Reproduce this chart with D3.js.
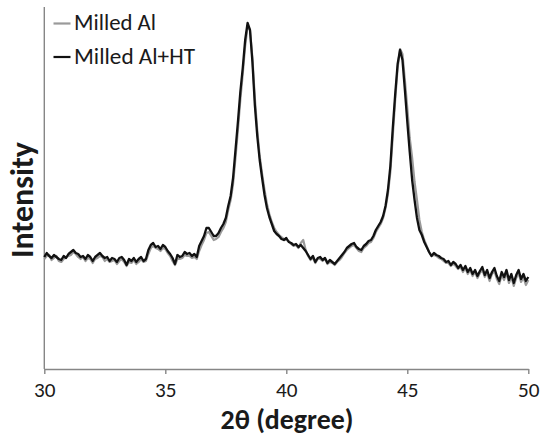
<!DOCTYPE html>
<html>
<head>
<meta charset="utf-8">
<script src="https://cdn.jsdelivr.net/npm/d3@7/dist/d3.min.js"></script>
<style>
  html, body { margin: 0; padding: 0; background: #fff; }
  svg { display: block; }
  text { font-family: Carlito, Calibri, Lato, "Open Sans", sans-serif; fill: #1a1a1a; }
</style>
</head>
<body>
<svg id="chart" width="541" height="437"></svg>
<script>
// ---- data (2θ in degrees, intensity in arbitrary units) ----
const angleStart = 30, angleEnd = 50, angleStep = 0.1;
const xTicks = [30, 35, 40, 45, 50];
const xTickLabels = ["30", "35", "40", "45", "50"];
const seriesNames = ["Milled Al", "Milled Al+HT"];

// Milled Al+HT (black)
const milledAlHT = [
112,116,113,111,114,112,110,109,113,111,
115,117,119,116,115,112,113,110,114,112,
108,112,114,116,113,111,112,108,111,110,
107,111,112,109,104,110,108,111,107,110,
112,108,110,119,124,126,122,123,120,124,
122,118,115,111,105,114,112,113,117,115,
116,113,115,112,123,128,133,141,141,137,
133,133,136,141,145,151,163,173,191,219,
247,277,301,329,346,339,307,264,233,209,
191,174,161,152,145,138,135,133,130,129,
131,127,126,124,125,122,124,121,118,114,
110,113,107,111,112,109,111,106,109,107,
105,108,111,114,117,121,123,125,126,122,
120,119,123,125,128,129,133,139,143,147,
153,163,179,203,241,275,305,319,309,279,
247,217,189,169,151,139,134,127,122,117,
113,116,114,113,111,110,107,108,104,107,
105,101,104,99,103,97,101,95,99,93,
98,102,94,99,91,97,101,93,88,97,
92,99,89,95,86,94,99,90,95,88,
92];

// Milled Al (gray)
const milledAl = [
110,113,114,109,111,113,108,107,110,112,
113,114,117,115,112,110,112,108,111,110,
106,110,111,113,112,108,110,107,108,109,
105,108,110,107,103,107,106,109,105,107,
110,107,108,115,121,123,121,120,118,121,
120,116,113,108,104,110,110,111,114,113,
113,111,112,110,118,124,129,136,137,133,
129,130,132,137,141,147,159,169,185,211,
239,269,295,323,343,339,311,271,239,213,
195,179,165,155,147,141,137,134,132,130,
129,128,125,123,124,121,126,129,119,113,
109,111,106,110,110,108,110,105,107,106,
104,107,109,112,116,119,121,123,124,121,
118,117,121,123,126,127,131,137,141,145,
151,161,175,197,233,269,301,320,315,289,
261,231,211,187,169,149,137,129,123,117,
113,114,113,111,110,108,106,106,103,105,
103,100,102,97,101,95,99,93,97,91,
96,99,92,96,88,95,98,90,85,94,
89,96,86,92,83,91,96,87,92,84,
89];

// ---- layout ----
const svg = d3.select("#chart");
const x = d3.scaleLinear().domain([angleStart, angleEnd]).range([44.3, 528.3]);
const y = d3.scaleLinear().domain([0, 362]).range([369, 7]);
const angles = milledAlHT.map((_, i) => +(angleStart + i * angleStep).toFixed(2));

const axisColor = "#868686";

// y axis (line only)
svg.append("line")
  .attr("x1", x(angleStart)).attr("x2", x(angleStart))
  .attr("y1", y(362)).attr("y2", y(0))
  .attr("stroke", axisColor).attr("stroke-width", 1.4);

// x axis
const xAxis = d3.axisBottom(x).tickValues(xTicks)
  .tickFormat((d, i) => xTickLabels[i]).tickSize(5).tickSizeOuter(0);
const gx = svg.append("g").attr("transform", `translate(0,${y(0)})`).call(xAxis);
gx.select(".domain").attr("stroke", axisColor).attr("stroke-width", 1.4);
gx.selectAll(".tick line").attr("stroke", axisColor).attr("stroke-width", 1.4);
gx.selectAll(".tick text")
  .attr("fill", "#1a1a1a")
  .attr("dy", null).attr("y", 27.5)
  .style("font-family", "Carlito, Calibri, Lato, sans-serif");

// fit helper: scale font size so text reaches a target width
function fitWidth(sel, target, start) {
  sel.style("font-size", start + "px");
  const w = sel.node().getComputedTextLength();
  sel.style("font-size", (start * target / w) + "px");
}
{
  const probe = gx.selectAll(".tick text").filter((d) => d === 45);
  probe.style("font-size", "20px");
  const w = probe.node().getComputedTextLength();
  const fs = 20 * 21.5 / w;
  gx.selectAll(".tick text").style("font-size", fs + "px");
}

// lines
const line = d3.line()
  .x((d, i) => x(angles[i]))
  .y(d => y(d))
  .curve(d3.curveLinear);

svg.append("path").datum(milledAl)
  .attr("fill", "none").attr("stroke", "#9a9a9a")
  .attr("stroke-width", 2.2).attr("stroke-linejoin", "round")
  .attr("d", line);
svg.append("path").datum(milledAlHT)
  .attr("fill", "none").attr("stroke", "#111")
  .attr("stroke-width", 2.3).attr("stroke-linejoin", "round")
  .attr("d", line);

// legend
const legendColors = ["#9a9a9a", "#111"];
const legendY = [23.5, 57];
const legendBase = [30, 64];
seriesNames.forEach((name, i) => {
  svg.append("line")
    .attr("x1", 53.5).attr("x2", 70.5)
    .attr("y1", legendY[i]).attr("y2", legendY[i])
    .attr("stroke", legendColors[i]).attr("stroke-width", 2.2);
  const t = svg.append("text")
    .attr("x", 74).attr("y", legendBase[i])
    .text(name);
  fitWidth(t, i === 0 ? 82 : 121, 22);
});

// axis titles
const xt = svg.append("text")
  .attr("x", 287).attr("y", 429)
  .attr("text-anchor", "middle")
  .style("font-weight", "bold")
  .text("2θ (degree)");
fitWidth(xt, 133, 24);

const yt = svg.append("text")
  .attr("transform", "translate(33,200) rotate(-90)")
  .attr("text-anchor", "middle")
  .style("font-weight", "bold")
  .text("Intensity");
fitWidth(yt, 116, 24);
</script>
</body>
</html>
